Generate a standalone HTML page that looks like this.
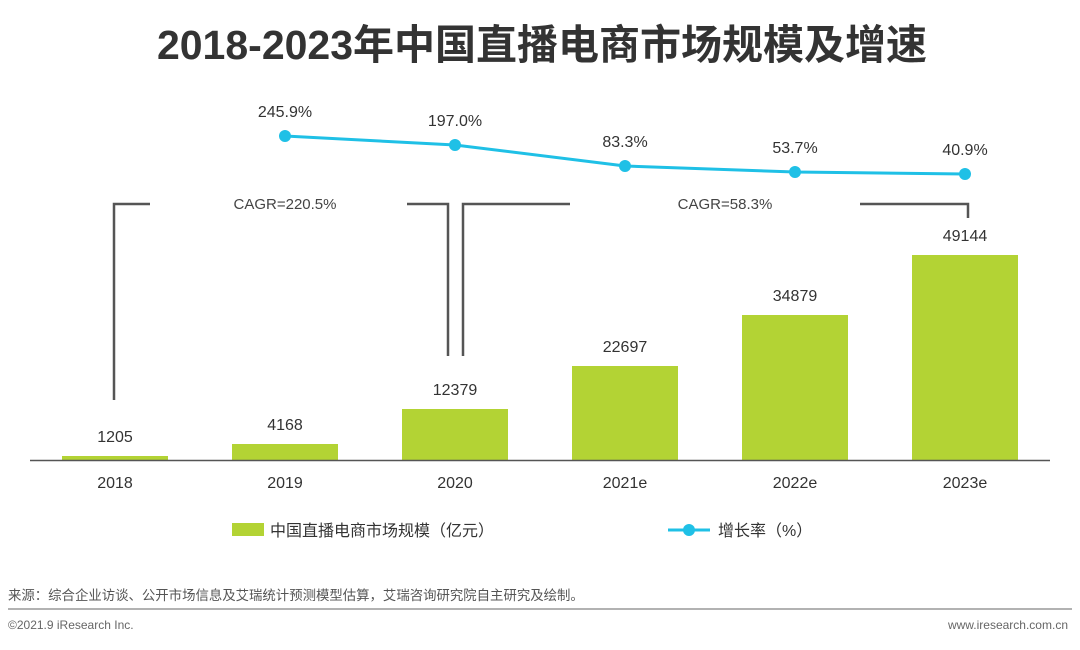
<!DOCTYPE html>
<html><head><meta charset="utf-8"><style>
body{margin:0;background:#fff;}
svg text{font-family:"Liberation Sans","Noto Sans CJK SC",sans-serif;}
</style></head><body>
<svg width="1080" height="645" viewBox="0 0 1080 645" xmlns="http://www.w3.org/2000/svg">
<rect width="1080" height="645" fill="#fff"/>
<text x="542" y="59" text-anchor="middle" font-size="41" font-weight="bold" fill="#333">2018-2023年中国直播电商市场规模及增速</text>
<g fill="none" stroke="#555" stroke-width="2.5">
<polyline points="150,204 114,204 114,400"/>
<polyline points="407,204 448,204 448,356"/>
<polyline points="570,204 463,204 463,356"/>
<polyline points="860,204 968,204 968,218"/>
</g>
<g font-size="15" fill="#444" text-anchor="middle">
<text x="285" y="209">CAGR=220.5%</text>
<text x="725" y="209">CAGR=58.3%</text>
</g>
<g fill="#b3d334">
<rect x="62" y="456" width="106" height="4"/>
<rect x="232" y="444" width="106" height="16"/>
<rect x="402" y="409" width="106" height="51"/>
<rect x="572" y="366" width="106" height="94"/>
<rect x="742" y="315" width="106" height="145"/>
<rect x="912" y="255" width="106" height="205"/>
</g>
<line x1="30" y1="460.5" x2="1050" y2="460.5" stroke="#555" stroke-width="1.5"/>
<g font-size="16" fill="#333" text-anchor="middle">
<text x="115" y="442">1205</text><text x="285" y="430">4168</text><text x="455" y="395">12379</text>
<text x="625" y="352">22697</text><text x="795" y="301">34879</text><text x="965" y="241">49144</text>
<text x="115" y="488">2018</text><text x="285" y="488">2019</text><text x="455" y="488">2020</text>
<text x="625" y="488">2021e</text><text x="795" y="488">2022e</text><text x="965" y="488">2023e</text>
<text x="285" y="117">245.9%</text><text x="455" y="126">197.0%</text><text x="625" y="147">83.3%</text>
<text x="795" y="153">53.7%</text><text x="965" y="155">40.9%</text>
</g>
<polyline points="285,136 455,145 625,166 795,172 965,174" fill="none" stroke="#1fc0e6" stroke-width="3"/>
<g fill="#1fc0e6"><circle cx="285" cy="136" r="6"/><circle cx="455" cy="145" r="6"/><circle cx="625" cy="166" r="6"/><circle cx="795" cy="172" r="6"/><circle cx="965" cy="174" r="6"/></g>
<rect x="232" y="523" width="32" height="13" fill="#b3d334"/>
<text x="270" y="536" font-size="16" fill="#333">中国直播电商市场规模（亿元）</text>
<line x1="668" y1="530" x2="710" y2="530" stroke="#1fc0e6" stroke-width="3"/>
<circle cx="689" cy="530" r="6" fill="#1fc0e6"/>
<text x="718" y="536" font-size="16" fill="#333">增长率（%）</text>
<text x="8" y="600" font-size="13.4" fill="#555">来源：综合企业访谈、公开市场信息及艾瑞统计预测模型估算，艾瑞咨询研究院自主研究及绘制。</text>
<line x1="8" y1="609" x2="1072" y2="609" stroke="#999" stroke-width="1.5"/>
<text x="8" y="629" font-size="12" fill="#666">©2021.9 iResearch Inc.</text>
<text x="1068" y="629" font-size="12" fill="#666" text-anchor="end">www.iresearch.com.cn</text>
</svg>
</body></html>
